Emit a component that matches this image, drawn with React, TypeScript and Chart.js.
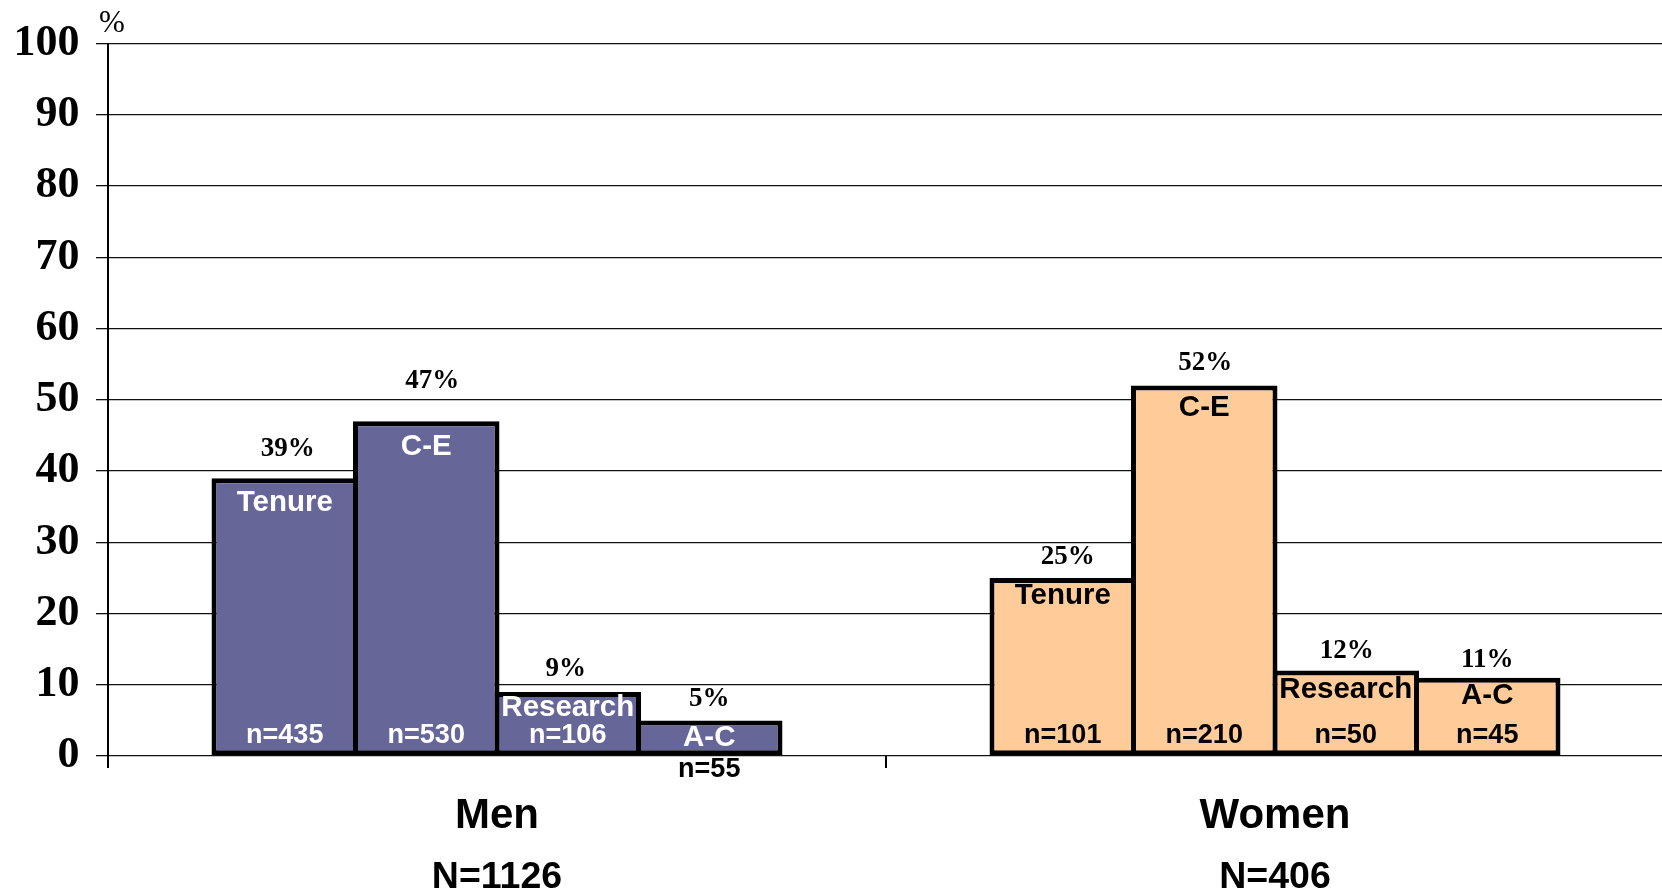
import React, { useEffect, useRef } from 'react';
import { Chart, registerables } from 'chart.js';

Chart.register(...registerables);

// ---- data ----
const GROUPS = ['Men', 'Women'];
const GROUP_TOTALS = ['N=1126', 'N=406'];
const SERIES = ['Tenure', 'C-E', 'Research', 'A-C'];
const TENURE_PCT = [39, 25];
const CE_PCT = [47, 52];
const RESEARCH_PCT = [9, 12];
const AC_PCT = [5, 11];
const TENURE_N = [435, 101];
const CE_N = [530, 210];
const RESEARCH_N = [106, 50];
const AC_N = [55, 45];
const Y_MIN = 0;
const Y_MAX = 100;
const Y_STEP = 10;

// ---- styles ----
const GROUP_FILLS = ['#666699', '#FFCC99'];
const GROUP_TEXT = ['#ffffff', '#000000'];
const SANS = '"Liberation Sans", Arial, sans-serif';
const SERIF = '"Liberation Serif", "Times New Roman", serif';
// label placement tweaks (px, relative to library bar geometry)
const PCT_LIFT = [
  [29, 21],
  [40, 22],
  [23, 19],
  [21, 18],
];
const PCT_SHIFT = [
  [3, 5],
  [6, 1],
  [-2, 1],
  [0, 0],
];
const NAME_DROP = [
  [25, 18],
  [26, 22],
  [16, 19],
  [0, 18],
];

const PCT_SERIES = [TENURE_PCT, CE_PCT, RESEARCH_PCT, AC_PCT];
const N_SERIES = [TENURE_N, CE_N, RESEARCH_N, AC_N];

const labelPlugin = {
  id: 'barLabels',
  afterDatasetsDraw(chart: any) {
    const ctx = chart.ctx;
    const yScale = chart.scales.y;
    const zeroY = yScale.getPixelForValue(0);
    ctx.save();
    ctx.textAlign = 'center';
    ctx.textBaseline = 'middle';
    chart.data.datasets.forEach((ds: any, di: number) => {
      const meta = chart.getDatasetMeta(di);
      meta.data.forEach((bar: any, i: number) => {
        const { x, y } = bar.getProps(['x', 'y'], true);
        const val = ds.data[i];
        const h = zeroY - y;
        // percentage above
        ctx.font = `bold 27px ${SERIF}`;
        ctx.fillStyle = '#000';
        ctx.fillText(`${val}%`, x + PCT_SHIFT[di][i], y - PCT_LIFT[di][i]);
        const nText = `n=${N_SERIES[di][i]}`;
        if (h < 50) {
          ctx.font = `bold 29.5px ${SANS}`;
          ctx.fillStyle = GROUP_TEXT[i];
          ctx.fillText(SERIES[di], x, (y + zeroY) / 2);
          ctx.font = `bold 27px ${SANS}`;
          ctx.fillStyle = '#000';
          ctx.fillText(nText, x, zeroY + 14);
        } else {
          ctx.font = `bold 29.5px ${SANS}`;
          ctx.fillStyle = GROUP_TEXT[i];
          ctx.fillText(SERIES[di], x, y + NAME_DROP[di][i]);
          ctx.font = `bold 27px ${SANS}`;
          ctx.fillText(nText, x, zeroY - 20);
        }
      });
    });
    // unit marker
    const area = chart.chartArea;
    ctx.font = `31px ${SERIF}`;
    ctx.fillStyle = '#000';
    ctx.textAlign = 'left';
    ctx.fillText('%', area.left - 9, area.top - 20);
    ctx.restore();
  },
};

export default function App() {
  const ref = useRef<HTMLCanvasElement | null>(null);

  useEffect(() => {
    document.body.style.margin = '0';
    document.body.style.overflow = 'hidden';
    const canvas = ref.current;
    if (!canvas) return;
    const cp = 0.7275;
    const slot = (778 * cp) / SERIES.length;
    const bp = (slot + 5) / slot;
    const chart = new Chart(canvas, {
      type: 'bar',
      data: {
        labels: GROUPS,
        datasets: SERIES.map((name, di) => ({
          label: name,
          data: PCT_SERIES[di],
          backgroundColor: GROUP_FILLS,
          borderColor: '#000',
          borderWidth: 5,
          borderSkipped: false,
          inflateAmount: 0,
          categoryPercentage: cp,
          barPercentage: bp,
        })),
      },
      options: {
        responsive: false,
        animation: false,
        devicePixelRatio: 1,
        layout: { padding: { top: 43.5, left: 0, right: 0, bottom: 0 } },
        plugins: {
          legend: { display: false },
          tooltip: { enabled: false },
        },
        scales: {
          x: {
            type: 'category',
            position: 'bottom',
            weight: 0,
            offset: true,
            grid: {
              display: true,
              drawOnChartArea: false,
              drawTicks: true,
              tickLength: 12,
              offset: true,
              color: '#000',
              lineWidth: 2,
            },
            border: { display: false },
            ticks: {
              color: '#000',
              padding: 23.5,
              font: { family: SANS, size: 42, weight: 'bold' },
            },
            afterFit(s: any) {
              s.height = 90;
            },
          },
          x2: {
            type: 'category',
            labels: GROUP_TOTALS,
            position: 'bottom',
            weight: 1,
            offset: true,
            grid: { display: false, drawTicks: false },
            border: { display: false },
            ticks: {
              color: '#000',
              padding: 9,
              font: { family: SANS, size: 37.5, weight: 'bold' },
            },
            afterFit(s: any) {
              s.height = 49;
            },
          },
          y: {
            min: Y_MIN,
            max: Y_MAX,
            ticks: {
              stepSize: Y_STEP,
              color: '#000',
              padding: 16.5,
              font: { family: SERIF, size: 44, weight: 'bold' },
            },
            grid: {
              color: '#111',
              lineWidth: 1.3,
              drawTicks: true,
              tickLength: 12,
            },
            border: { display: true, color: '#000', width: 2 },
            afterFit(s: any) {
              s.width = 108;
            },
          },
        },
      },
      plugins: [labelPlugin],
    } as any);
    return () => chart.destroy();
  }, []);

  return (
    <div style={{ position: 'fixed', left: 0, top: 0, background: '#fff' }}>
      <canvas ref={ref} width={1664} height={895} style={{ display: 'block' }} />
    </div>
  );
}
